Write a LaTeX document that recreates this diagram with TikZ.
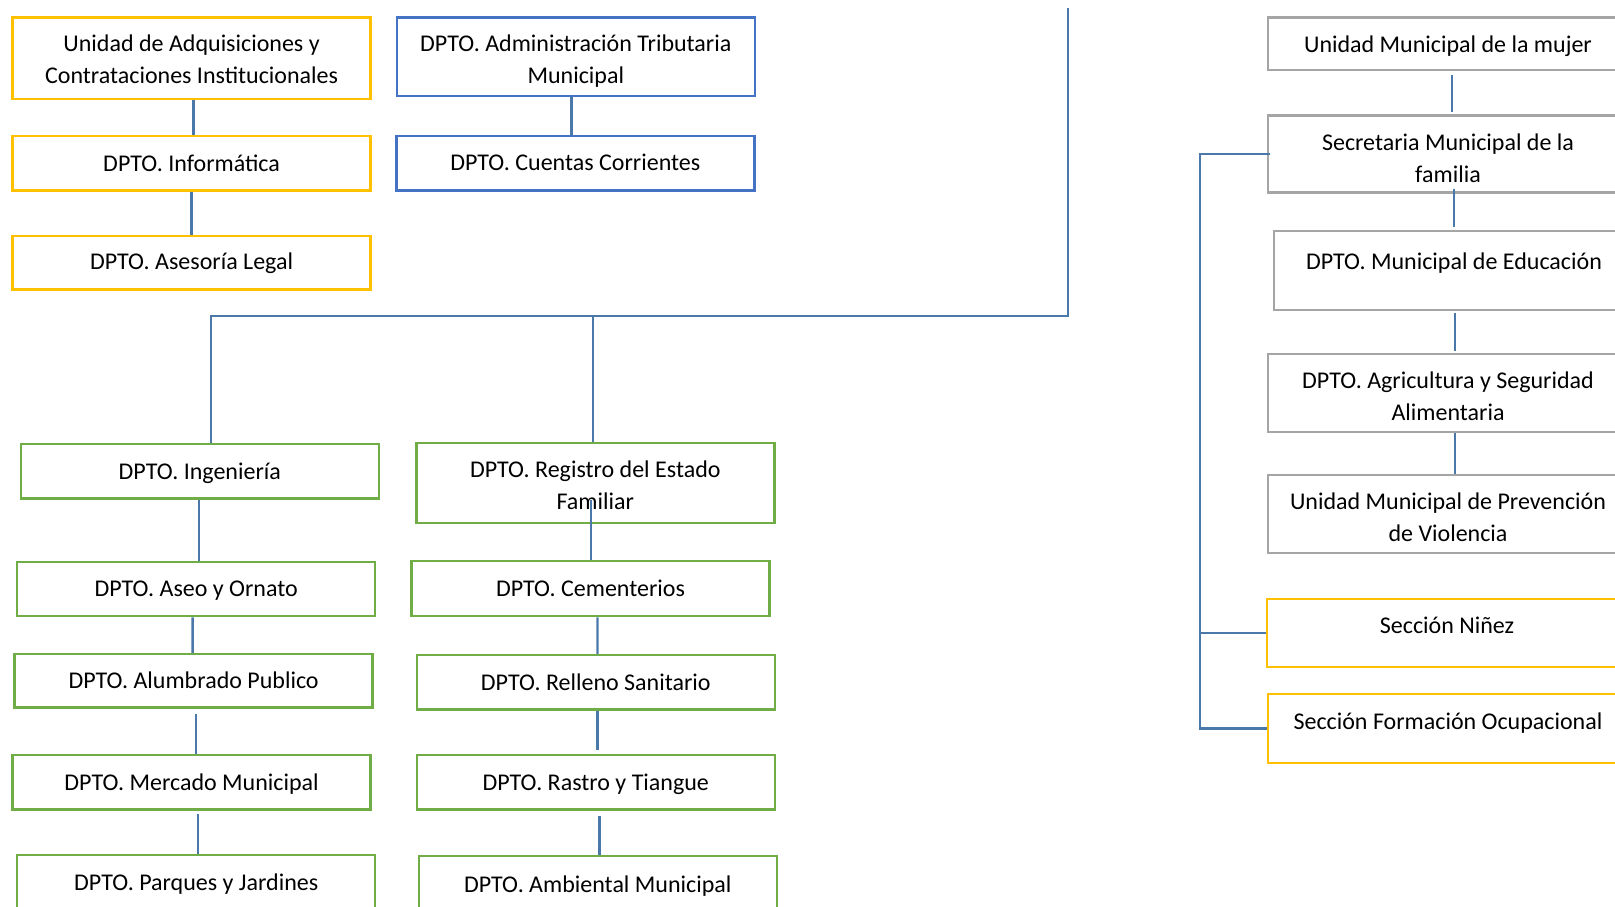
\documentclass[tikz,border=0pt]{standalone}
\usepackage{fontspec}
\setmainfont{Carlito}
\definecolor{ylw}{HTML}{FFC000}
\definecolor{blu}{HTML}{4472C4}
\definecolor{grn}{HTML}{70AD47}
\definecolor{gry}{HTML}{A5A5A5}
\definecolor{con}{HTML}{4A78A8}
\tikzset{
  box/.style={draw=#1, line width=2.5pt, fill=white, minimum width=358pt, inner sep=0pt, anchor=center},
  rbox/.style={box=#1, minimum width=360pt},
  txtm/.style={inner sep=0pt, align=center, font=\fontsize{24}{32}\selectfont, anchor=center},
  txts/.style={txtm, text height=21pt, text depth=4pt},
  conn/.style={draw=con, line width=2.3pt},
}
% single-line box: name, box style, cx, cy, height, text y, text
\newcommand\sbx[7]{%
  \node[#2, minimum height=#5pt] (#1) at (#3,#4) {};
  \node[txts] (#1t) at (#3,#6) {#7};}
% multi-line box: name, box style, cx, cy, height, text shift down, text
\newcommand\mbx[7]{%
  \node[#2, minimum height=#5pt] (#1) at (#3,#4) {};
  \node[txtm] (#1t) at ([yshift=-#6pt]#1.center) {#7};}
\begin{document}
\begin{tikzpicture}[x=1pt,y=-1pt]
\useasboundingbox (0,0) rectangle (1615,907);
% top-left yellow column
\mbx{a1}{box=ylw}{191.6}{58.2}{81.5}{1.5}{Unidad de Adquisiciones y\\Contrataciones Institucionales}
\sbx{a2}{box=ylw}{191.6}{163.3}{54.5}{162.7}{DPTO. Informática}
\sbx{a3}{box=ylw}{191.6}{262.7}{53.4}{260.6}{DPTO. Asesoría Legal}
% blue column
\mbx{b1}{box=blu}{575.8}{56.6}{78.3}{4.6}{DPTO. Administración Tributaria\\Municipal}
\sbx{b2}{box=blu}{575.3}{163.3}{54.5}{161.7}{DPTO. Cuentas Corrientes}
% green left column
\sbx{g1}{box=grn}{199.8}{471.3}{54.5}{470.7}{DPTO. Ingeniería}
\sbx{g2}{box=grn}{196.2}{589}{54}{588.1}{DPTO. Aseo y Ornato}
\sbx{g3}{box=grn}{193.6}{680.8}{53.6}{679.8}{DPTO. Alumbrado Publico}
\sbx{g4}{box=grn}{191.6}{782.3}{54.6}{781.7}{DPTO. Mercado Municipal}
\sbx{g5}{box=grn}{196.2}{882}{54}{881.7}{DPTO. Parques y Jardines}
% green right column
\mbx{h1}{box=grn}{595.3}{483}{80}{2}{DPTO. Registro del Estado\\Familiar}
\sbx{h2}{box=grn}{590.5}{588.5}{55}{588.1}{DPTO. Cementerios}
\sbx{h3}{box=grn}{595.8}{682.3}{54.6}{681.8}{DPTO. Relleno Sanitario}
\sbx{h4}{box=grn}{595.8}{782.3}{54.6}{781.7}{DPTO. Rastro y Tiangue}
\sbx{h5}{box=grn}{597.8}{883}{54}{883.7}{DPTO. Ambiental Municipal}
% right column
\sbx{r1}{rbox=gry}{1448}{43.8}{52.5}{44.3}{Unidad Municipal de la mujer}
\mbx{r2}{rbox=gry}{1448}{154}{77}{4}{Secretaria Municipal de la\\familia}
\sbx{r3}{rbox=gry}{1454}{270.5}{79}{260.6}{DPTO. Municipal de Educación}
\mbx{r4}{rbox=gry}{1448}{393}{77.7}{3}{DPTO. Agricultura y Seguridad\\Alimentaria}
\mbx{r5}{rbox=gry}{1448}{514}{78}{3}{Unidad Municipal de Prevención\\de Violencia}
\sbx{r6}{rbox=ylw}{1447}{633}{68}{625.2}{Sección Niñez}
\sbx{r7}{rbox=ylw}{1448}{728.5}{69}{721}{Sección Formación Ocupacional}
% connectors
\draw[conn] ([xshift=2pt]a1.south) -- ([xshift=2pt]a2.north);
\draw[conn] (a2.south) -- (a3.north);
\draw[conn] ([xshift=-4.2pt]b1.south) -- ([xshift=-3.7pt]b2.north);
\coordinate (top) at (1068,8.2);
\coordinate (bus) at (593,316);
\coordinate (gdrop) at ([xshift=11.2pt]g1.north);
\draw[conn] (top) |- (gdrop |- bus) -- (gdrop);
\draw[conn] (bus) -- ([xshift=-2.3pt]h1.north);
\draw[conn] ([xshift=-1pt]g1.south) -- ([xshift=2.6pt]g2.north);
\draw[conn] ([xshift=-3.6pt]g2.south) -- ([xshift=-1pt]g3.north);
\draw[conn] ([xshift=2.1pt,yshift=-5pt]g3.south) -- ([xshift=4.1pt]g4.north);
\draw[conn] ([xshift=6.2pt,yshift=-3.5pt]g4.south) -- ([xshift=1.6pt]g5.north);
\draw[conn] ([xshift=-4.1pt,yshift=24pt]h1.south) -- ([xshift=0.7pt]h2.north);
\draw[conn] ([xshift=6.9pt]h2.south) -- ([xshift=1.6pt]h3.north);
\draw[conn] ([xshift=1.6pt]h3.south) -- ([xshift=1.6pt,yshift=3.3pt]h4.north);
\draw[conn] ([xshift=3.6pt,yshift=-5.4pt]h4.south) -- ([xshift=1.6pt]h5.north);
\draw[conn] ([xshift=4pt,yshift=-4pt]r1.south) -- ([xshift=4pt,yshift=2.5pt]r2.north);
\draw[conn] ([xshift=6pt,yshift=4.6pt]r2.south) -- ([yshift=3pt]r3.north);
\draw[conn] ([xshift=1pt,yshift=-2pt]r3.south) -- ([xshift=7pt,yshift=2pt]r4.north);
\draw[conn] ([xshift=7pt]r4.south) -- ([xshift=7pt]r5.north);
\coordinate (bx) at (1200,0);
\draw[conn] ([xshift=3.7pt]r2.west) -- (r2.west -| bx) -- (r7.west -| bx) -- (r7.west);
\draw[conn] (r6.west -| bx) -- (r6.west);
\end{tikzpicture}
\end{document}
